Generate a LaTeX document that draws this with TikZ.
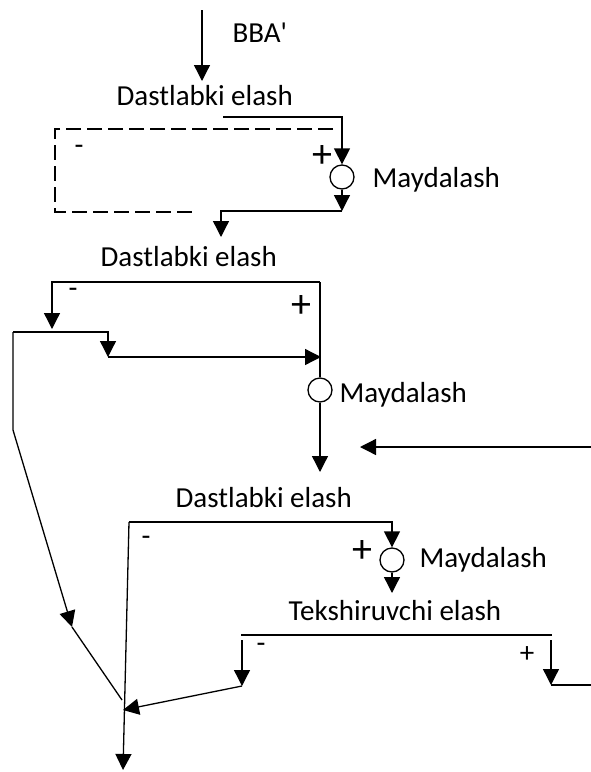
\documentclass[tikz,border=0pt]{standalone}
\usepackage{fontspec}
\setmainfont{Carlito}
\usetikzlibrary{arrows.meta}
\tikzset{
  >={Triangle[width=16pt,length=16pt]},
  lab/.style = {anchor=base west, inner sep=0pt, font=\fontsize{29}{35}\selectfont},
  mill/.style = {circle, draw, fill=white, minimum size=24pt, inner sep=0pt},
  sign/.style = {anchor=base, inner sep=0pt, font=\fontsize{29}{35}\selectfont},
  bigsign/.style = {anchor=base, inner sep=0pt, font=\fontsize{40}{48}\selectfont},
  loopline/.style = {dash pattern=on 15pt off 6pt}
}

\begin{document}
\begin{tikzpicture}[x=1pt, y=-1pt, line width=1.3pt]
\useasboundingbox (0,0) rectangle (591,772);

% first stage
\node[lab] (bba) at (232,42) {BBA\textquotesingle};
\node[lab] (d1) at (116,105) {Dastlabki elash};
\node[mill] (m1) at (342,177) {};
\node[lab] (y1) at (372,187) {Maydalash};
\node[sign] (n1) at (79,154) {-};
\node[bigsign] (p1) at (322,167) {+};

\coordinate (src) at (202,10);
\coordinate (d1in) at (202,81);
\coordinate (d1r) at (223,117);
\coordinate (d1k) at (342,117);
\coordinate (m1out) at (342,211);
\coordinate (d2in) at (221,237);
\coordinate (lp1) at (333,129);
\coordinate (lp2) at (55,129);
\coordinate (lp3) at (55,212);
\coordinate (lp4) at (193,212);

\draw[->] (src) -- (d1in);
\draw[->] (d1r) -- (d1k) -- (m1.north);
\draw[->] (m1.south) -- (m1out);
\draw[->] (m1out) -| (d2in);
\draw[loopline] (lp1) -- (lp2) -- (lp3) -- (lp4);

% second stage
\node[lab] (d2) at (100,266) {Dastlabki elash};
\node[mill] (m2) at (320,390) {};
\node[lab] (y2) at (339,402) {Maydalash};
\node[sign] (n2) at (73,297) {-};
\node[bigsign] (p2) at (301,317) {+};

\coordinate (s2r) at (320,282);
\coordinate (s2l) at (52,329);
\coordinate (b2l) at (13,332);
\coordinate (b2m) at (108,357);
\coordinate (b2r) at (321,357);
\coordinate (k1) at (13,430);
\coordinate (k2) at (72,627);
\coordinate (k3) at (122,700);
\coordinate (d3in) at (320,472);
\coordinate (feed) at (591,447);
\coordinate (feedin) at (360,447);

\draw (s2r) -- (m2.north);
\draw[->] (s2r) -| (s2l);
\draw[->] (b2l) -| (b2m);
\draw[->] (b2m) -- (b2r);
\draw[->] (b2l) -- (k1) -- (k2);
\draw (k2) -- (k3);
\draw[->] (m2.south) -- (d3in);
\draw[->] (feed) -- (feedin);

% third stage
\node[lab] (d3) at (175,507) {Dastlabki elash};
\node[mill] (m3) at (392,560) {};
\node[lab] (y3) at (419,567) {Maydalash};
\node[sign] (n3) at (146,545) {-};
\node[bigsign] (p3) at (362,562) {+};

\coordinate (t3l) at (129,522);
\coordinate (t3r) at (392,522);
\coordinate (out) at (123,770);
\coordinate (d4in) at (392,593);

\draw[->] (t3l) -- (t3r) -- (m3.north);
\draw[->] (t3l) -- (out);
\draw[->] (m3.south) -- (d4in);

% control screen
\node[lab] (d4) at (288,620) {Tekshiruvchi elash};
\node[sign] (n4) at (261,652) {-};
\node[sign] (p4) at (527,662) {+};

\coordinate (u4l) at (241,635);
\coordinate (u4r) at (552,635);
\coordinate (v4l) at (242,640);
\coordinate (w4l) at (242,686);
\coordinate (v4r) at (551,640);
\coordinate (w4r) at (551,685);
\coordinate (tail) at (591,685);
\coordinate (join) at (123,710);

\draw (u4l) -- (u4r);
\draw[->] (v4l) -- (w4l);
\draw[->] (w4l) -- (join);
\draw[->] (v4r) -- (w4r);
\draw (w4r) -- (tail);
\end{tikzpicture}
\end{document}
